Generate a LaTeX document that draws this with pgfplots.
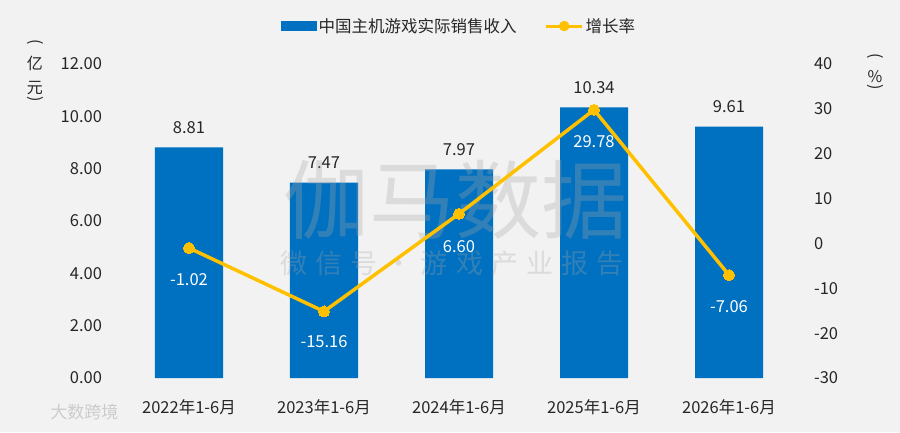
\documentclass[border=0pt]{standalone}
\usepackage{fontspec}
\setmainfont{Noto Sans CJK SC}
\usepackage{pgfplots}
\pgfplotsset{compat=1.18}
\usepackage{pgfplotstable}
\definecolor{barblue}{HTML}{0070C0}
\definecolor{lineyellow}{HTML}{FFC000}
\definecolor{bg}{HTML}{F2F2F2}
\definecolor{txt}{HTML}{262626}

\pgfplotstableread{
x rev g off
0 8.81 -1.02 32
1 7.47 -15.16 30
2 7.97 6.60 33
3 10.34 29.78 32
4 9.61 -7.06 32
}\data

\begin{document}
\begin{tikzpicture}
\fill[bg] (-121.5pt,-54pt) rectangle (778.5pt,378pt);
\useasboundingbox (-121.5pt,-54pt) rectangle (778.5pt,378pt);
\begin{axis}[
  scale only axis, width=675pt, height=314pt,
  xmin=-0.5, xmax=4.5, ymin=0, ymax=12,
  ytick={0,2,...,12},
  xtick={0,1,2,3,4},
  xticklabels={2022年1-6月,2023年1-6月,2024年1-6月,2025年1-6月,2026年1-6月},
  axis line style={draw=none}, major tick length=0pt,
  /pgf/number format/assume math mode=true,
  yticklabel style={/pgf/number format/fixed, /pgf/number format/fixed zerofill, /pgf/number format/precision=2, anchor=east, xshift=-16pt},
  xticklabel style={anchor=center, yshift=-29pt},
  tick label style={font=\fontsize{16.5}{19}\selectfont, text=txt},
  legend style={at={(0.5,1)}, anchor=south, yshift=26pt, draw=none, fill=none,
    legend columns=2, font=\fontsize{16.5}{19}\selectfont, text=txt,
    /tikz/every even column/.append style={column sep=26pt}},
]
\addplot[ybar, bar width=68pt, fill=barblue, draw=none,
  area legend,
  legend image code/.code={\fill[barblue] (0cm,-5pt) rectangle (36pt,5pt);},
  nodes near coords, point meta=explicit symbolic,
  every node near coord/.append style={anchor=center, yshift=20pt, text=txt, font=\fontsize{16.5}{19}\selectfont}]
  table[x=x, y=rev, meta=rev]{\data};
\addlegendentry{中国主机游戏实际销售收入}
\addlegendimage{legend image code/.code={\draw[lineyellow, line width=3pt] (0pt,0pt) -- (36pt,0pt); \fill[lineyellow] (18pt,0pt) circle (5pt);}}
\addlegendentry{增长率}
\end{axis}
% watermark
\node[text=gray!70, opacity=0.3, font=\fontsize{86}{90}\selectfont, inner sep=0pt] at (333.5pt,178pt) {伽马数据};
\node[text=gray!70, opacity=0.3, font=\fontsize{27}{30}\selectfont\addfontfeature{LetterSpace=30}, inner sep=0pt] at (330.5pt,115pt) {微信号·游戏产业报告};
\node[text=gray!40, font=\fontsize{17}{20}\selectfont, inner sep=0pt] at (-37pt,-34pt) {大数跨境};
\begin{axis}[
  scale only axis, width=675pt, height=314pt,
  xmin=-0.5, xmax=4.5, ymin=-30, ymax=40,
  ytick={-30,-20,...,40},
  axis y line*=right, hide x axis,
  axis line style={draw=none}, major tick length=0pt,
  /pgf/number format/assume math mode=true,
  yticklabel style={anchor=west, xshift=14pt, font=\fontsize{16.5}{19}\selectfont, text=txt},
]
\addplot[lineyellow, line width=3.5pt, mark=*, mark size=5.5pt,
  mark options={fill=lineyellow, draw=lineyellow, line width=0pt},
  nodes near coords, point meta=explicit symbolic,
  visualization depends on={\thisrow{off}\as\myoff},
  every node near coord/.append style={anchor=center, yshift={-\myoff pt}, text=white, font=\fontsize{16.5}{19}\selectfont}]
  table[x=x, y=g, meta=g]{\data};
\end{axis}
\begin{scope}[every node/.style={font=\fontsize{16}{20}\selectfont, text=txt, inner sep=0pt}]
\node at (-86.5pt,335pt) {\rotatebox[origin=c]{-90}{(}};
\node at (-86.5pt,315pt) {亿};
\node at (-86.5pt,290pt) {元};
\node at (-86.5pt,278pt) {\rotatebox[origin=c]{-90}{)}};
\node at (753.5pt,321pt) {\rotatebox[origin=c]{-90}{(}};
\node at (753.5pt,301pt) {\%};
\node at (753.5pt,290pt) {\rotatebox[origin=c]{-90}{)}};
\end{scope}
\end{tikzpicture}
\end{document}
